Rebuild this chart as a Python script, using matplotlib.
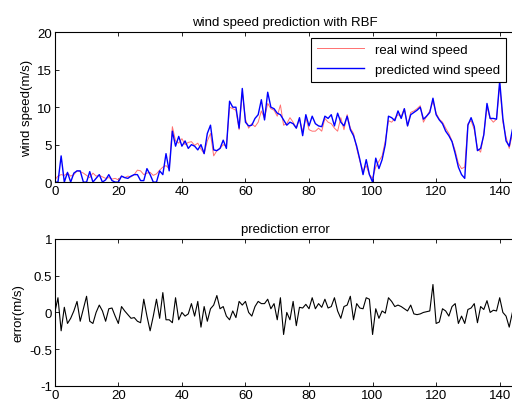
import matplotlib.pyplot as plt
import numpy as np

plt.rcParams['font.family'] = ['Liberation Sans', 'DejaVu Sans']

# wind speed readings (m/s), one per sample
real_speed = [0.3, 0.8, 1.0, 0.9, 1.2, 0.8, 1.0, 1.5, 1.4, 1.2,
              0.9, 0.6, 1.2, 0.8, 0.9, 0.7, 0.5, 0.6, 0.4, 0.5,
              0.3, 0.8, 0.6, 0.8, 0.7, 1.0, 1.6, 1.5, 1.0, 1.2,
              1.3, 0.9, 1.1, 1.6, 2.0, 2.2, 1.8, 7.4, 5.5, 5.2,
              5.8, 5.0, 5.3, 5.4, 4.9, 5.2, 4.4, 3.8, 5.5, 6.5,
              3.5, 4.2, 4.5, 5.0, 4.8, 10.0, 9.8, 9.6, 7.0, 12.0,
              8.4, 7.2, 7.8, 7.4, 8.0, 9.5, 8.5, 10.5, 9.8, 9.6,
              8.8, 10.3, 7.6, 7.8, 8.6, 8.0, 7.2, 8.4, 6.8, 8.6,
              7.0, 6.8, 6.8, 7.2, 6.8, 8.5, 8.0, 7.8, 7.2, 6.8,
              8.6, 7.0, 9.0, 7.2, 6.5, 4.5, 2.8, 1.5, 2.2, 1.0,
              0.5, 2.0, 2.8, 3.5, 5.5, 8.2, 8.0, 8.5, 9.0, 8.8,
              9.8, 7.5, 9.3, 9.5, 9.8, 10.2, 8.0, 8.8, 9.5, 10.8,
              9.2, 8.4, 8.0, 7.2, 6.5, 5.5, 4.2, 2.5, 1.8, 2.0,
              7.8, 8.2, 7.0, 4.5, 4.0, 6.5, 10.0, 8.5, 8.0, 8.4,
              13.0, 8.0, 6.0, 4.5, 6.5]

pred_speed = [0.0, 0.0, 3.5, 0.0, 1.3, 0.0, 1.2, 1.5, 1.5, 0.0,
              0.0, 1.4, 0.0, 0.5, 1.0, 0.0, 0.3, 1.0, 0.2, 0.0,
              0.0, 0.8, 0.6, 0.5, 0.8, 1.0, 1.0, 0.2, 0.2, 1.8,
              1.0, 0.0, 0.0, 1.5, 1.0, 3.8, 1.5, 6.8, 4.8, 6.1,
              4.8, 5.5, 4.5, 5.0, 4.8, 4.3, 5.0, 3.8, 6.5, 7.6,
              4.3, 4.2, 4.5, 5.6, 4.5, 10.8, 10.0, 10.0, 7.2, 12.5,
              8.0, 7.5, 7.6, 8.5, 9.0, 11.0, 8.3, 12.0, 10.0, 9.8,
              9.2, 9.0, 8.3, 7.6, 8.0, 7.8, 7.2, 8.6, 6.2, 9.0,
              7.5, 8.8, 7.8, 7.5, 7.4, 8.8, 8.5, 9.0, 7.5, 9.2,
              8.0, 7.5, 8.8, 7.0, 6.2, 4.8, 3.0, 1.0, 3.0, 1.0,
              0.0, 3.2, 1.8, 3.0, 5.0, 8.8, 8.6, 8.2, 9.5, 8.5,
              9.8, 7.5, 9.0, 9.3, 9.6, 10.0, 8.4, 8.8, 9.3, 11.2,
              9.0, 8.3, 7.8, 6.8, 6.2, 5.4, 3.8, 2.0, 1.0, 0.5,
              7.6, 8.6, 7.4, 4.2, 4.5, 6.3, 10.5, 8.5, 8.5, 8.4,
              13.5, 8.5, 5.5, 4.8, 7.0]

pred_error = [0.0, 0.2, -0.25, 0.07, -0.15, -0.08, 0.02, 0.15, -0.12, 0.05,
              0.22, -0.12, -0.15, 0.0, 0.1, 0.02, -0.12, 0.05, 0.06, -0.05,
              -0.15, 0.08, 0.02, -0.03, -0.08, -0.07, -0.12, -0.14, 0.18, -0.05,
              -0.25, -0.05, 0.18, -0.08, 0.27, -0.1, -0.1, -0.14, 0.2, -0.1,
              0.0, -0.05, -0.02, 0.12, -0.05, 0.15, -0.2, 0.08, -0.12, 0.05,
              0.1, 0.23, 0.05, 0.08, -0.05, -0.1, 0.02, -0.07, 0.15, 0.1,
              0.15, 0.0, -0.05, 0.08, 0.15, 0.12, 0.12, 0.18, 0.05, 0.12,
              -0.1, 0.2, -0.3, 0.0, -0.1, 0.15, -0.18, 0.07, 0.06, 0.11,
              0.05, 0.2, 0.05, 0.12, 0.07, 0.18, 0.06, 0.08, 0.2, 0.02,
              -0.08, 0.08, 0.1, 0.22, -0.1, 0.12, 0.06, 0.05, 0.2, 0.18,
              -0.3, 0.05, -0.08, 0.02, -0.01, 0.2, 0.15, 0.08, 0.1, 0.08,
              0.05, 0.02, 0.1, -0.02, -0.03, -0.02, 0.0, 0.01, 0.02, 0.38,
              -0.15, -0.13, 0.05, 0.02, -0.05, 0.08, 0.12, -0.15, -0.05, -0.15,
              0.04, 0.06, 0.12, -0.14, 0.08, 0.04, 0.16, 0.0, 0.03, 0.02,
              0.2, 0.0, -0.05, -0.2, 0.0]

x = np.arange(len(real_speed))
fs = 9.5

fig = plt.figure(figsize=(5.12, 4.06), dpi=100)
ax1 = fig.add_axes([0.107, 0.549, 0.9, 0.369])
ax2 = fig.add_axes([0.107, 0.047, 0.9, 0.362])


def matlab_style(ax):
    ax.tick_params(direction='in', top=True, right=True, length=3,
                   width=0.6, labelsize=fs, pad=2)
    for s in ax.spines.values():
        s.set_linewidth(0.8)


ax1.plot(x, real_speed, color='#ff7070', lw=0.7, label='real wind speed')
ax1.plot(x, pred_speed, color='#0000ff', lw=1.0, label='predicted wind speed')
ax1.set_xlim(0, 145)
ax1.set_ylim(0, 20)
ax1.set_yticks([0, 5, 10, 15, 20])
ax1.set_xticks([0, 20, 40, 60, 80, 100, 120, 140])
ax1.set_title('wind speed prediction with RBF', fontsize=fs, pad=5)
ax1.set_ylabel('wind speed(m/s)', fontsize=fs, labelpad=3)
leg = ax1.legend(loc='upper right', bbox_to_anchor=(0.988, 0.99), fontsize=fs,
                 fancybox=False, framealpha=1, edgecolor='black',
                 borderpad=0.45, labelspacing=0.6, handlelength=3.6,
                 handletextpad=0.8, borderaxespad=0.3)
leg.get_frame().set_linewidth(0.8)
matlab_style(ax1)

ax2.plot(x, pred_error, color='black', lw=0.8)
ax2.set_xlim(0, 145)
ax2.set_ylim(-1, 1)
ax2.set_yticks([-1, -0.5, 0, 0.5, 1])
ax2.set_yticklabels(['-1', '-0.5', '0', '0.5', '1'])
ax2.set_xticks([0, 20, 40, 60, 80, 100, 120, 140])
ax2.set_title('prediction error', fontsize=fs, pad=5)
ax2.set_ylabel('error(m/s)', fontsize=fs, labelpad=3)
matlab_style(ax2)

fig.savefig('out.png', dpi=100)
